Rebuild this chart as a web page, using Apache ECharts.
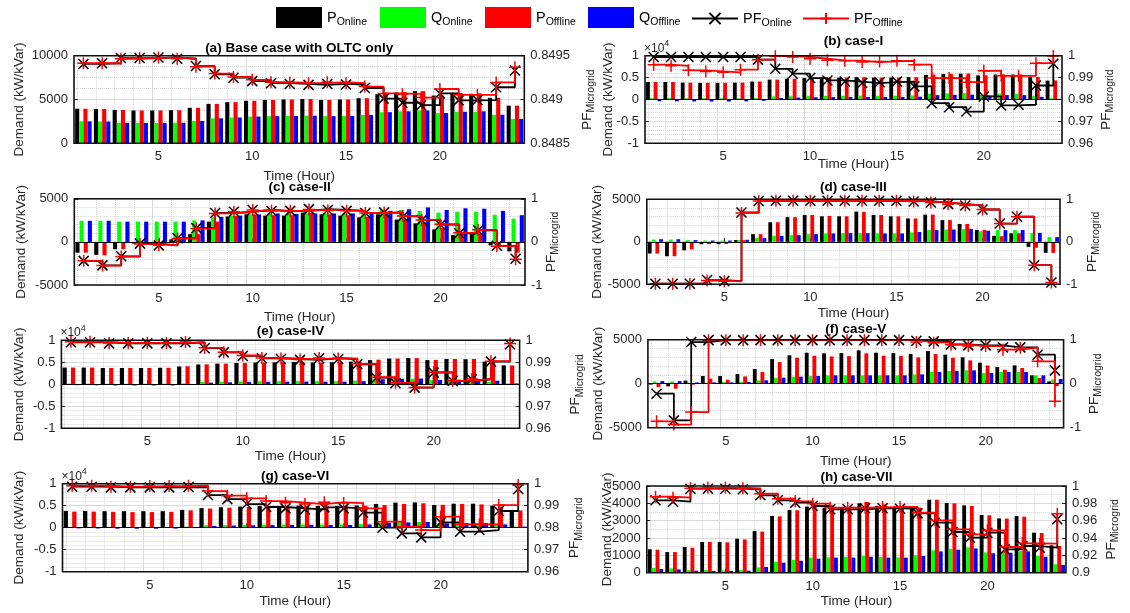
<!DOCTYPE html>
<html>
<head>
<meta charset="utf-8">
<script src="https://cdn.jsdelivr.net/npm/echarts@6/dist/echarts.min.js"></script>
<style>html,body{margin:0;padding:0;background:#fff;}#c{width:1130px;height:613px;}</style>
</head>
<body>
<div id="c"></div>
<script>
// ---------------- data ----------------
const HOURS = ['1','2','3','4','5','6','7','8','9','10','11','12','13','14','15','16','17','18','19','20','21','22','23','24'];
const MAJOR_HOURS = ['5','10','15','20'];
const MINOR_HOURS = ['1','2','3','4','6','7','8','9','11','12','13','14','16','17','18','19','21','22','23','24'];
const SERIES_NAMES = ['P_Online','Q_Online','P_Offline','Q_Offline','PF_Online','PF_Offline'];

// (a) Base case with OLTC only
const PA_on  = [3950,3920,3800,3750,3750,3780,4050,4500,4700,4850,4950,5000,5050,4950,5000,5150,5600,5800,5950,5450,5700,5650,5190,4300];
const QA_on  = [2500,2480,2340,2320,2320,2350,2550,2850,2950,3050,3100,3120,3150,3100,3120,3230,3550,3650,3750,3450,3600,3580,3260,2770];
const PA_off = [3950,3920,3800,3750,3750,3780,4050,4500,4700,4850,4950,5000,5050,4950,5000,5150,5650,5850,5950,5450,5750,5700,5190,4300];
const QA_off = [2500,2480,2340,2320,2320,2350,2550,2850,2950,3050,3100,3120,3150,3100,3120,3230,3550,3650,3750,3450,3600,3650,3260,2770];
const PFA_on  = [0.849406,0.849414,0.849473,0.849473,0.849480,0.849465,0.849382,0.849288,0.849249,0.849210,0.849186,0.849178,0.849167,0.849178,0.849171,0.849131,0.849010,0.848963,0.848935,0.849069,0.848990,0.848994,0.849140,0.849330];
const PFA_off = [0.849414,0.849414,0.849465,0.849473,0.849480,0.849465,0.849375,0.849296,0.849257,0.849225,0.849198,0.849190,0.849186,0.849198,0.849186,0.849147,0.849069,0.849061,0.849022,0.849120,0.849053,0.849053,0.849195,0.849368];

// (b) case-I
const PB_on  = [4000,4000,3850,3800,3800,3850,4100,4550,4750,4900,5000,5000,5100,5000,5000,5100,5600,5800,5900,5500,5700,5700,5150,4300];
const QB_on  = [320,320,300,290,290,300,340,700,750,780,800,820,850,820,820,900,1300,1400,1450,1050,1300,1300,780,320];
const PB_off = [4000,4000,3850,3800,3800,3850,4100,4550,4750,4900,5000,5000,5100,5000,5000,5100,5700,5850,5950,5500,5750,5750,5150,4350];
const QB_off = [-400,-420,-450,-460,-460,-430,-300,350,450,500,550,560,580,560,560,650,1000,1050,1100,900,1000,1000,600,150];
const PFB_on  = [0.9994,0.9994,0.9994,0.9994,0.9994,0.9994,0.9982,0.9940,0.9918,0.9898,0.9887,0.9882,0.9875,0.9879,0.9882,0.9860,0.9783,0.9765,0.9745,0.9814,0.9773,0.9776,0.9864,0.9963];
const PFB_off = [0.9959,0.9954,0.9933,0.9928,0.9924,0.9936,0.9982,0.9998,0.9994,0.9986,0.9979,0.9977,0.9971,0.9974,0.9977,0.9959,0.9898,0.9898,0.9879,0.9931,0.9908,0.9908,0.9966,0.9999];

// (c) case-II
const PC_on  = [-1250,-1500,-850,-200,-100,300,900,2350,2950,3200,3050,3050,3400,3200,3050,2850,3200,2600,2150,1450,800,900,-400,-1100];
const QC_on  = [2450,2450,2350,2350,2350,2350,2500,2850,3050,3200,3300,3300,3400,3300,3300,3450,3700,3700,3600,3400,3500,3500,3150,2700];
const PC_off = [-1250,-1550,-850,-200,-150,300,900,2350,3000,3200,3100,3100,3350,3200,3100,2900,3200,2650,2250,1600,950,1000,-400,-1250];
const QC_off = [2450,2450,2350,2350,2350,2350,2500,2900,3050,3200,3300,3250,3300,3300,3300,3300,3600,3800,4000,3700,3900,3850,3600,3100];
const PFC_on  = [-0.44,-0.545,-0.335,-0.04,-0.08,0.085,0.32,0.67,0.70,0.74,0.716,0.72,0.76,0.74,0.72,0.67,0.685,0.59,0.505,0.40,0.20,0.27,-0.09,-0.39];
const PFC_off = [-0.44,-0.55,-0.34,-0.05,-0.08,0.08,0.31,0.66,0.70,0.74,0.72,0.72,0.75,0.73,0.72,0.67,0.68,0.60,0.51,0.41,0.21,0.28,-0.10,-0.40];

// (d) case-III
const PD_on  = [-1380,-1700,-1000,-280,-280,200,900,2300,2900,3150,3000,3000,3550,3150,3000,2750,3200,2550,2100,1400,700,1000,-600,-1300];
const QD_on  = [270,270,200,150,150,200,470,700,780,900,980,1020,1020,980,980,1100,1380,1450,1500,1250,1380,1380,1020,550];
const PD_off = [-1380,-1700,-900,-280,-250,200,900,2300,2900,3150,3050,3000,3500,3150,3000,2750,3200,2550,2100,1400,650,1000,-700,-1300];
const QD_off = [300,300,200,150,150,240,430,700,780,900,980,1020,1020,980,980,1150,1380,1450,1520,1300,1380,1380,1050,550];
const PFD_on  = [-0.985,-0.985,-0.985,-0.90,-0.925,0.69,0.96,0.965,0.965,0.965,0.965,0.965,0.965,0.965,0.965,0.95,0.925,0.886,0.855,0.76,0.43,0.59,-0.55,-0.957];
const PFD_off = [-0.985,-0.985,-0.985,-0.91,-0.93,0.68,0.96,0.965,0.965,0.965,0.965,0.965,0.965,0.965,0.965,0.95,0.925,0.886,0.855,0.76,0.43,0.59,-0.55,-0.96];

// (e) case-IV
const PE_on  = [3800,3800,3700,3700,3700,3750,4050,4500,4700,4850,4950,5000,5050,4950,5000,5150,5500,5850,5950,5500,5750,5700,5150,4300];
const QE_on  = [150,150,120,120,120,140,200,550,600,650,700,700,720,700,700,800,1150,1250,1300,950,1100,1100,600,200];
const PE_off = [3800,3800,3700,3700,3700,3750,4100,4550,4700,4850,4950,5000,5050,4950,5000,5150,5600,5850,5950,5550,5750,5750,5100,4300];
const QE_off = [-200,-220,-250,-260,-260,-240,-100,400,450,550,580,600,620,600,600,700,1150,1250,1300,1000,1050,1050,800,200];
const PFE_on  = [0.9991,0.9991,0.9986,0.9986,0.9986,0.9986,0.9991,0.9964,0.9945,0.9929,0.9918,0.9915,0.9911,0.9918,0.9915,0.9891,0.9830,0.9805,0.9785,0.9853,0.9815,0.9823,0.9903,0.9982];
const PFE_off = [0.9993,0.9993,0.9988,0.9988,0.9988,0.9988,0.9992,0.9966,0.9946,0.9931,0.9920,0.9917,0.9913,0.9920,0.9917,0.9893,0.9832,0.9807,0.9786,0.9855,0.9816,0.9824,0.9905,0.9985];

// (f) case-V
const PF_on_f  = [-100,-300,350,870,870,1100,1670,2800,3220,3520,3450,3480,3790,3520,3480,3370,3710,3300,3000,2390,1890,2080,950,260];
const QF_on_f  = [260,260,110,110,190,190,380,680,800,870,950,950,950,950,950,1060,1330,1440,1520,1210,1330,1330,950,490];
const PF_off_f = [-380,-570,-110,570,450,830,1330,2460,2950,3180,3100,3140,3450,3180,3140,2990,3370,2950,2650,2080,1590,1780,640,-270];
const QF_off_f = [300,300,150,150,150,190,380,680,800,870,950,950,950,950,950,1060,1330,1440,1520,1210,1330,1330,950,530];
const PFF_on  = [-0.227,-0.833,0.947,0.99,0.99,0.99,0.99,0.99,0.99,0.99,0.99,0.99,0.99,0.99,0.99,0.977,0.962,0.894,0.871,0.871,0.826,0.826,0.659,0.303];
const PFF_off = [-0.856,-0.93,-0.644,0.99,0.99,0.99,0.99,0.99,0.99,0.99,0.99,0.99,0.99,0.99,0.99,0.947,0.932,0.886,0.856,0.856,0.773,0.818,0.508,-0.40];

// (g) case-VI
const PG_on  = [3800,3800,3750,3750,3750,3750,4050,4450,4650,4800,4950,4950,5000,4950,4950,5050,5400,5700,5750,5150,5450,5450,5000,4000];
const QG_on  = [200,200,180,170,170,190,250,550,600,650,700,720,740,720,720,800,1100,1200,1300,950,1050,1050,700,250];
const PG_off = [3650,3650,3600,3550,3550,3600,3950,4350,4550,4700,4850,4850,4900,4850,4850,5000,5150,5400,5550,5200,5400,5300,4800,3900];
const QG_off = [-150,-170,-220,-230,-230,-200,-80,400,500,550,600,620,650,620,620,750,1100,1200,1300,1000,1050,1050,750,250];
const PFG_on  = [0.99864,0.99864,0.99833,0.99833,0.99833,0.99833,0.9985,0.99485,0.9930,0.99076,0.9894,0.98879,0.98833,0.98924,0.98879,0.98682,0.98,0.97742,0.9756,0.98242,0.97818,0.97894,0.98758,0.99758];
const PFG_off = [0.9991,0.9991,0.99864,0.99864,0.9989,0.9989,0.9991,0.99667,0.99455,0.99333,0.99212,0.99136,0.99076,0.99152,0.99121,0.98879,0.98273,0.98045,0.97894,0.985,0.98152,0.98152,0.9903,0.9994];

// (h) case-VII
const PH_on  = [1350,1190,1480,1770,1770,1960,2400,3270,3620,3810,3750,3750,4000,3850,3750,3750,4210,4020,3880,3330,3130,3270,2310,1580];
const QH_on  = [270,250,150,150,130,150,310,630,730,870,880,920,960,900,880,1000,1290,1380,1460,1170,1190,1250,960,480];
const PH_off = [1330,1190,1440,1770,1750,1920,2370,3250,3600,3880,3900,3790,4080,3940,3850,3750,4210,4000,3850,3310,3120,3230,2290,1540];
const QH_off = [210,190,115,100,100,115,330,580,690,810,870,870,920,870,870,960,1230,1330,1400,1120,1150,1230,920,440];
const PFH_on  = [0.98346,0.98192,0.99692,0.99692,0.99692,0.99615,0.98923,0.98346,0.98077,0.97692,0.97308,0.97308,0.97423,0.97423,0.97385,0.96846,0.95769,0.94692,0.94038,0.94615,0.92692,0.93077,0.92885,0.9616];
const PFH_off = [0.98769,0.98654,0.99731,0.99808,0.99808,0.99731,0.99115,0.98538,0.98231,0.97962,0.975,0.975,0.975,0.97577,0.97577,0.96923,0.96038,0.95,0.94423,0.94885,0.92962,0.93385,0.93346,0.968];

// ---------------- layout / style ----------------
const FONT = "'Liberation Sans', Arial, Helvetica, sans-serif";
const TXT = '#262626';
const COLORS = ['#000000','#00ff00','#ff0000','#0000ff','#000000','#ff0000'];
const X_SYMBOL = 'path://M0,0L10,10M0,10L10,0';
const PLUS_SYMBOL = 'path://M5,0L5,10M0,5L10,5';

const AX_10K = {min:-10000, max:10000, interval:5000, minor:5, div:10000};
const AX_5K = {min:-5000, max:5000, interval:5000, minor:5, div:1};
const AX_PF96 = {min:0.96, max:1, interval:0.01};
const AX_PF1 = {min:-1, max:1, interval:1};

const PANELS = [
  {title:'(a) Base case with OLTC only', data:[PA_on,QA_on,PA_off,QA_off,PFA_on,PFA_off],
   left:{min:0,max:10000,interval:5000,minor:4,div:1}, right:{min:0.8485,max:0.8495,interval:0.0005},
   box:[74,55.7,450.3,87.6], titleY:48.3, timeY:176.7, demandX:19, pfX:587, expo:false, zero:false},
  {title:'(b) case-I', data:[PB_on,QB_on,PB_off,QB_off,PFB_on,PFB_off],
   left:AX_10K, right:AX_PF96,
   box:[645,55.7,417,87.6], titleY:41, timeY:164, demandX:608.5, pfX:1106, expo:true, zero:true},
  {title:'(c) case-II', data:[PC_on,QC_on,PC_off,QC_off,PFC_on,PFC_off],
   left:AX_5K, right:AX_PF1,
   box:[74.3,198.8,450.7,86.2], titleY:187.3, timeY:317.3, demandX:21.5, pfX:551, expo:false, zero:true},
  {title:'(d) case-III', data:[PD_on,QD_on,PD_off,QD_off,PFD_on,PFD_off],
   left:AX_5K, right:AX_PF1,
   box:[646.8,199.3,413.2,85], titleY:187.3, timeY:313.3, demandX:597.5, pfX:1092, expo:false, zero:true},
  {title:'(e) case-IV', data:[PE_on,QE_on,PE_off,QE_off,PFE_on,PFE_off],
   left:AX_10K, right:AX_PF96,
   box:[61.4,340.3,458.2,88], titleY:331.7, timeY:456.7, demandX:19, pfX:575.5, expo:true, zero:true},
  {title:'(f) case-V', data:[PF_on_f,QF_on_f,PF_off_f,QF_off_f,PFF_on,PFF_off],
   left:AX_5K, right:AX_PF1,
   box:[647.9,339.7,415.7,88], titleY:329, timeY:461.7, demandX:598, pfX:1094, expo:false, zero:true},
  {title:'(g) case-VI', data:[PG_on,QG_on,PG_off,QG_off,PFG_on,PFG_off],
   left:AX_10K, right:AX_PF96,
   box:[62.5,483.7,465.4,88], titleY:476, timeY:601, demandX:19.6, pfX:574.5, expo:true, zero:true},
  {title:'(h) case-VII', data:[PH_on,QH_on,PH_off,QH_off,PFH_on,PFH_off],
   left:{min:0,max:5000,interval:1000,minor:2,div:1}, right:{min:0.9,max:1,interval:0.02},
   box:[646.8,486,419.2,86.7], titleY:477.7, timeY:601.7, demandX:607, pfX:1111, expo:false, zero:false}
];

const isMajor = (idx, val) => MAJOR_HOURS.indexOf(String(val)) >= 0;
const fmt = v => String(+(+v).toFixed(4));

const grids = [], xAxes = [], yAxes = [], series = [], graphics = [];

const gridLineData = MAJOR_HOURS.map(h => ({xAxis: h, lineStyle: {color: '#dadada', width: 1, type: 'solid'}}))
  .concat(MINOR_HOURS.map(h => ({xAxis: h, lineStyle: {color: '#d6d6d6', width: 1, type: 'dotted'}})));

PANELS.forEach((p, i) => {
  const [gl, gt, gw, gh] = p.box;
  grids.push({left: gl, top: gt, width: gw, height: gh, containLabel: false, show: false});
  xAxes.push({
    type: 'category', gridIndex: i, data: HOURS, boundaryGap: true,
    axisLine: {show: false},
    axisTick: {show: true, inside: true, length: 4, alignWithLabel: true, interval: isMajor, lineStyle: {color: TXT}},
    axisLabel: {interval: isMajor, margin: 7, fontSize: 13, fontFamily: FONT, color: TXT},
    splitLine: {show: false}
  });
  yAxes.push({
    type: 'value', gridIndex: i, position: 'left',
    min: p.left.min, max: p.left.max, interval: p.left.interval,
    axisLine: {show: false},
    axisTick: {show: true, inside: true, length: 4, lineStyle: {color: TXT}},
    axisLabel: {margin: 6, fontSize: 13, fontFamily: FONT, color: TXT, formatter: v => fmt(v / p.left.div)},
    splitLine: {show: true, lineStyle: {color: '#dadada', width: 1}},
    minorTick: {show: false, splitNumber: p.left.minor},
    minorSplitLine: {show: true, lineStyle: {color: '#d6d6d6', width: 1, type: 'dotted'}}
  });
  yAxes.push({
    type: 'value', gridIndex: i, position: 'right',
    min: p.right.min, max: p.right.max, interval: p.right.interval,
    axisLine: {show: false},
    axisTick: {show: true, inside: true, length: 4, lineStyle: {color: TXT}},
    axisLabel: {margin: 6, fontSize: 13, fontFamily: FONT, color: TXT, formatter: fmt},
    splitLine: {show: false}
  });
  for (let k = 0; k < 4; k++) {
    const s = {
      type: 'bar', name: SERIES_NAMES[k], xAxisIndex: i, yAxisIndex: 2 * i,
      data: p.data[k], barGap: '0%', barCategoryGap: '12%',
      itemStyle: {color: COLORS[k]}, z: 2, animation: false
    };
    if (k === 0) {
      s.markLine = {silent: true, symbol: ['none', 'none'], z: 1, animation: false,
        label: {show: false}, emphasis: {disabled: true}, data: gridLineData};
    }
    if (k === 2 && p.zero) {
      s.markLine = {silent: true, symbol: ['none', 'none'], z: 3, animation: false,
        label: {show: false}, emphasis: {disabled: true},
        data: [{yAxis: 0, lineStyle: {color: '#000', width: 1, type: 'solid'}}]};
    }
    series.push(s);
  }
  series.push({
    type: 'line', name: SERIES_NAMES[4], xAxisIndex: i, yAxisIndex: 2 * i + 1,
    data: p.data[4], step: 'end', symbol: X_SYMBOL, symbolSize: 10, showAllSymbol: true,
    lineStyle: {color: '#000', width: 1.8},
    itemStyle: {color: '#000', borderColor: '#000', borderWidth: 1.5},
    z: 4, animation: false
  });
  series.push({
    type: 'line', name: SERIES_NAMES[5], xAxisIndex: i, yAxisIndex: 2 * i + 1,
    data: p.data[5], step: 'end', symbol: PLUS_SYMBOL, symbolSize: 12, showAllSymbol: true,
    lineStyle: {color: '#ff0000', width: 1.8},
    itemStyle: {color: '#ff0000', borderColor: '#ff0000', borderWidth: 1.5},
    z: 5, animation: false
  });

  const cx = gl + gw / 2, cy = gt + gh / 2;
  graphics.push({type: 'rect', silent: true, z: 100,
    shape: {x: gl, y: gt, width: gw, height: gh},
    style: {fill: 'none', stroke: '#111', lineWidth: 1.6}});
  graphics.push({type: 'text', silent: true, z: 101, x: cx, y: p.titleY,
    style: {text: p.title, fontSize: 13.5, fontWeight: 'bold', fontFamily: FONT, fill: '#000',
      align: 'center', verticalAlign: 'middle'}});
  graphics.push({type: 'text', silent: true, z: 101, x: cx, y: p.timeY,
    style: {text: 'Time (Hour)', fontSize: 13.5, fontFamily: FONT, fill: TXT,
      align: 'center', verticalAlign: 'middle'}});
  graphics.push({type: 'text', silent: true, z: 101, x: p.demandX, y: cy, rotation: Math.PI / 2,
    style: {text: 'Demand (kW/kVar)', fontSize: 13.5, fontFamily: FONT, fill: TXT,
      align: 'center', verticalAlign: 'middle'}});
  graphics.push({type: 'text', silent: true, z: 101, x: p.pfX, y: cy, rotation: Math.PI / 2,
    style: {text: '{m|PF}{s|Microgrid}', align: 'center', verticalAlign: 'middle',
      rich: {
        m: {fontSize: 13.5, lineHeight: 20, fontFamily: FONT, fill: TXT},
        s: {fontSize: 10.5, lineHeight: 10, fontFamily: FONT, fill: TXT, verticalAlign: 'bottom'}
      }}});
  if (p.expo) {
    graphics.push({type: 'text', silent: true, z: 101, x: gl - 1, y: gt - 7.5,
      style: {text: '{m|\u00d710}{p|4}', align: 'left', verticalAlign: 'middle',
        rich: {
          m: {fontSize: 12, lineHeight: 18, fontFamily: FONT, fill: TXT},
          p: {fontSize: 9, lineHeight: 9, fontFamily: FONT, fill: TXT, verticalAlign: 'top'}
        }}});
  }
});

const LEGEND_LEFTS = [276, 380, 485, 588, 691, 802];
const legendRich = {
  m: {fontSize: 14.5, lineHeight: 20, fontFamily: FONT, color: '#000'},
  s: {fontSize: 10.5, lineHeight: 10, fontFamily: FONT, color: '#000', verticalAlign: 'bottom'}
};
const legends = SERIES_NAMES.map((n, k) => {
  const isBar = k < 4;
  const lg = {
    data: [n], left: LEGEND_LEFTS[k], top: isBar ? 7 : 11, orient: 'horizontal',
    padding: 0, itemGap: 0, itemWidth: 46, itemHeight: isBar ? 21 : 14,
    selectedMode: false,
    formatter: name => { const parts = name.split('_'); return '{m|' + parts[0] + '}{s|' + parts[1] + '}'; },
    textStyle: {color: '#000', fontFamily: FONT, rich: legendRich}
  };
  if (isBar) lg.icon = 'rect';
  return lg;
});

const chart = echarts.init(document.getElementById('c'), null, {renderer: 'canvas', width: 1130, height: 613});
chart.setOption({
  animation: false,
  backgroundColor: '#ffffff',
  legend: legends,
  grid: grids,
  xAxis: xAxes,
  yAxis: yAxes,
  series: series,
  graphic: graphics
});
</script>
</body>
</html>
